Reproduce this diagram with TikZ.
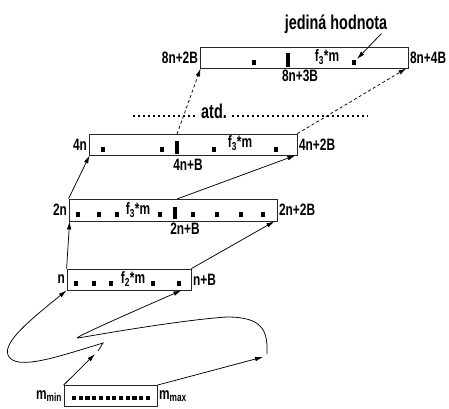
\documentclass[tikz,border=0pt]{standalone}
\usepackage{fontspec}
\setmainfont{Liberation Sans}[FakeStretch=0.72]
\usetikzlibrary{arrows.meta}
\begin{document}
\begin{tikzpicture}[x=1pt,y=-1pt,
  box/.style={draw=black!85,line width=0.8pt,inner sep=0pt,minimum height=21pt},
  lbl/.style={font=\fontsize{16.5}{16.5}\selectfont\bfseries,inner sep=1.5pt},
  blbl/.style={font=\fontsize{20}{20}\selectfont\bfseries,inner sep=1pt},
  arr/.style={-{Latex[length=8pt,width=4.5pt]},line width=0.75pt},
  dsh/.style={arr,dash pattern=on 3pt off 2.5pt},
  dotline/.style={line width=2.2pt,dash pattern=on 2.4pt off 2.6pt}]
\useasboundingbox (0,0) rectangle (449,408);

% boxes
\node[box,minimum width=208pt] (T)  at (304,57.5) {};
\node[box,minimum width=208pt] (B4) at (193,144.5) {};
\node[box,minimum width=208pt,minimum height=22pt] (B2) at (173,210) {};
\node[box,minimum width=124pt] (Bn) at (129,279.5) {};
\node[box,minimum width=93pt]  (Bm) at (110.5,396) {};

% squares and bars
\foreach \x in {254,354} \fill (\x-2.3,60) rectangle ++(4.6,4.6);
\fill (286,53) rectangle (290,67);
\foreach \x in {103,162,214,276} \fill (\x-2.3,147) rectangle ++(4.6,4.6);
\fill (175,141) rectangle (179,154);
\foreach \x in {78,99,117,160,193,217,241,263} \fill (\x-2.3,212) rectangle ++(4.6,4.6);
\fill (173,207) rectangle (177,219);
\foreach \x in {76,94,111,153,179} \fill (\x-2.3,281) rectangle ++(4.6,4.6);
\foreach \i in {0,...,11} \fill ({72+\i*6.7},396) rectangle ++(4.2,4.2);

% labels
\node[lbl,anchor=east] (lT1) at (T.west) {8n+2B};
\node[lbl,anchor=west] (lT2) at (T.east) {8n+4B};
\node[lbl] (lT3) at (300,76) {8n+3B};
\node[lbl] (fT) at (327,57) {f\textsubscript{3}*m};
\node[blbl] (jh) at (336,24) {jediná hodnota};

\node[lbl,anchor=east] (l41) at (B4.west) {4n};
\node[lbl,anchor=west] (l42) at (B4.east) {4n+2B};
\node[lbl] (l43) at (188,165) {4n+B};
\node[lbl] (f4) at (240,143) {f\textsubscript{3}*m};

\node[lbl,anchor=east] (l21) at (B2.west) {2n};
\node[lbl,anchor=west] (l22) at (B2.east) {2n+2B};
\node[lbl] (l23) at (185,229) {2n+B};
\node[lbl] (f2) at (138,210) {f\textsubscript{3}*m};

\node[lbl,anchor=east] (ln1) at (Bn.west) {n};
\node[lbl,anchor=west] (ln2) at (Bn.east) {n+B};
\node[lbl] (fn) at (133,279) {f\textsubscript{2}*m};

\node[lbl,anchor=east] (lm1) at (Bm.west) {m\textsubscript{min}};
\node[lbl,anchor=west] (lm2) at (Bm.east) {m\textsubscript{max}};

\node[blbl] (atd) at (214,111) {atd.};
\draw[dotline] (133,116) -- (198,116);
\draw[dotline] (232,116) -- (368,116);

% coordinates
\coordinate (sqT) at (357,59);
\coordinate (b4bar) at (177,134);
\coordinate (b2bar) at (177,199);
\coordinate (c1) at (95,354);
\coordinate (c1a) at (98,351);
\coordinate (c2) at (263,357);
\coordinate (c2a) at (267,354);

% arrows
\draw[arr] ([xshift=-7pt,yshift=1pt]jh.south east) -- (sqT);
\draw[dsh] (b4bar) -- ([xshift=1pt]T.south west);
\draw[dsh] (B4.north east) -- ([xshift=-2pt]T.south east);
\draw[arr] (B2.north west) -- ([xshift=1pt]B4.south west);
\draw[arr] (b2bar) -- ([xshift=-2pt]B4.south east);
\draw[arr] (Bn.north west) -- ([xshift=1pt]B2.south west);
\draw[arr] (Bn.north east) -- ([xshift=-3pt]B2.south east);
\draw[arr] (Bm.north west) -- (c1);
\draw[arr] (Bm.north east) -- (c2);
\draw[arr] (c1a) -- (103,343) .. controls (60,356) and (15,372) .. (8,355)
  .. controls (3,342) and (30,320) .. (Bn.south west);
\draw[arr] (c2a) .. controls (268,330) and (262,317) .. (227,317)
  .. controls (180,320) and (90,336) .. (78,338)
  .. controls (72,339) and (100,326) .. ([xshift=-10pt]Bn.south east);
\end{tikzpicture}
\end{document}
